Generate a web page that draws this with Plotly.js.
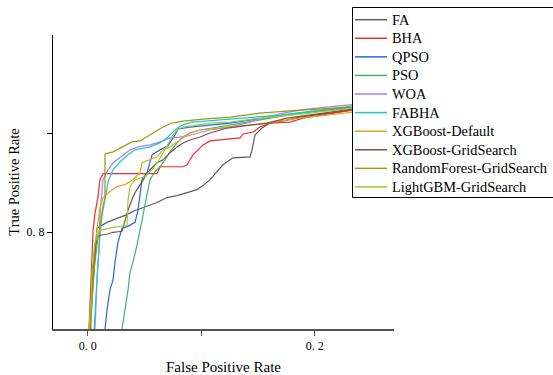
<!DOCTYPE html>
<html>
<head>
<meta charset="utf-8">
<script src="https://cdn.plot.ly/plotly-3.0.1.min.js"></script>
<style>html,body{margin:0;padding:0;background:#fff;}#chart{width:553px;height:375px;}</style>
</head>
<body>
<div id="chart"></div>
<script>
// Series names and colours
const seriesNames = ["FA","BHA","QPSO","PSO","WOA","FABHA","XGBoost-Default","XGBoost-GridSearch","RandomForest-GridSearch","LightGBM-GridSearch"];
const seriesColors = ["#5c5c5c","#f02c2c","#2468e0","#3cb371","#b080e8","#1cc8d4","#dea520","#80504a","#9c9a10","#9acd32"];

// ROC points (False Positive Rate, True Positive Rate)
const faFPR  = [0.002,0.0038,0.0056,0.0073,0.0082,0.0108,0.017,0.0258,0.0329,0.0417,0.0522,0.0611,0.0699,0.0787,0.0875,0.0963,0.1016,0.1078,0.1139,0.1192,0.128,0.143,0.1448,0.1474,0.1536,0.1606,0.1756,0.187,0.2329,0.28];
const faTPR  = [0.702,0.732,0.762,0.787,0.804,0.806,0.810,0.814,0.817,0.822,0.826,0.830,0.835,0.837,0.840,0.843,0.847,0.853,0.861,0.868,0.875,0.876,0.883,0.898,0.905,0.910,0.913,0.916,0.923,0.930];

const bhaFPR = [0.0011,0.002,0.0029,0.0038,0.0047,0.0064,0.0091,0.0108,0.0135,0.0611,0.0637,0.084,0.0875,0.0901,0.0928,0.0972,0.1016,0.1078,0.1342,0.1369,0.1457,0.1518,0.1606,0.1782,0.1897,0.2329,0.28];
const bhaTPR = [0.702,0.732,0.762,0.782,0.802,0.819,0.836,0.853,0.859,0.859,0.866,0.866,0.868,0.873,0.878,0.883,0.888,0.892,0.895,0.899,0.901,0.906,0.910,0.911,0.915,0.923,0.930];

const qpsoFPR = [0.0152,0.017,0.0196,0.0223,0.024,0.0267,0.0302,0.0355,0.0417,0.0443,0.0461,0.0478,0.0522,0.0549,0.0567,0.0637,0.0707,0.0769,0.0796,0.0901,0.1254,0.1606,0.187,0.2329,0.28];
const qpsoTPR = [0.702,0.722,0.742,0.752,0.770,0.790,0.804,0.806,0.810,0.822,0.838,0.853,0.860,0.870,0.878,0.883,0.887,0.898,0.904,0.906,0.910,0.916,0.920,0.926,0.932];

const psoFPR = [0.0302,0.0329,0.0355,0.0373,0.0399,0.0434,0.0461,0.0487,0.0522,0.0549,0.0593,0.0637,0.0681,0.0725,0.0787,0.084,0.0901,0.099,0.1254,0.1518,0.187,0.2329,0.28];
const psoTPR = [0.702,0.722,0.742,0.760,0.770,0.787,0.804,0.817,0.838,0.853,0.861,0.866,0.873,0.881,0.890,0.896,0.900,0.903,0.908,0.913,0.920,0.925,0.931];

const woaFPR = [0.0064,0.0073,0.0082,0.010,0.0108,0.0135,0.0179,0.0223,0.0285,0.0373,0.0443,0.0549,0.0637,0.0725,0.084,0.0963,0.1078,0.1254,0.143,0.1606,0.1721,0.1932,0.2329,0.28];
const woaTPR = [0.702,0.732,0.752,0.782,0.819,0.853,0.863,0.870,0.875,0.883,0.886,0.888,0.891,0.895,0.896,0.900,0.903,0.906,0.911,0.917,0.920,0.924,0.929,0.934];

const fabhaFPR = [0.0056,0.0073,0.0091,0.0108,0.0126,0.0152,0.0179,0.0223,0.0285,0.0355,0.0417,0.0549,0.0637,0.0707,0.0769,0.0831,0.0919,0.1254,0.1694,0.2329,0.28];
const fabhaTPR = [0.702,0.742,0.772,0.797,0.817,0.833,0.851,0.863,0.871,0.878,0.883,0.886,0.890,0.896,0.903,0.908,0.911,0.914,0.918,0.927,0.933];

const xgbdFPR = [0.0029,0.0038,0.0047,0.0064,0.0082,0.0108,0.0135,0.0196,0.0258,0.0329,0.0399,0.0461,0.0478,0.0549,0.0611,0.0663,0.0725,0.0787,0.0901,0.099,0.1254,0.1518,0.187,0.2329,0.28];
const xgbdTPR = [0.702,0.732,0.762,0.787,0.804,0.825,0.835,0.841,0.846,0.848,0.853,0.860,0.870,0.873,0.876,0.883,0.886,0.891,0.900,0.903,0.906,0.909,0.915,0.921,0.927];

const xgbgFPR = [0.002,0.0029,0.0047,0.0064,0.0082,0.0108,0.017,0.0223,0.0302,0.0329,0.0346,0.039,0.0417,0.0461,0.0505,0.0549,0.0611,0.0663,0.0725,0.0787,0.084,0.0901,0.099,0.1078,0.1228,0.143,0.158,0.1756,0.2329,0.28];
const xgbgTPR = [0.702,0.732,0.762,0.782,0.795,0.797,0.798,0.800,0.801,0.812,0.819,0.833,0.840,0.848,0.856,0.863,0.870,0.873,0.880,0.886,0.890,0.893,0.896,0.900,0.905,0.908,0.910,0.915,0.924,0.930];

const rfFPR = [0.002,0.0038,0.0056,0.0082,0.0108,0.0135,0.0152,0.0152,0.0223,0.0302,0.039,0.0461,0.0522,0.0593,0.0663,0.0743,0.084,0.1016,0.1254,0.1518,0.187,0.2329,0.28];
const rfTPR = [0.702,0.732,0.762,0.787,0.807,0.827,0.835,0.879,0.881,0.886,0.891,0.892,0.896,0.901,0.906,0.910,0.912,0.914,0.916,0.920,0.923,0.926,0.931];

const lgbFPR = [0.0011,0.0029,0.0038,0.0064,0.0108,0.0223,0.0346,0.0355,0.0373,0.0417,0.0505,0.0567,0.0619,0.0663,0.0707,0.0752,0.0787,0.084,0.1078,0.1254,0.1518,0.187,0.2329,0.28];
const lgbTPR = [0.702,0.732,0.760,0.790,0.802,0.805,0.807,0.832,0.846,0.853,0.856,0.863,0.871,0.880,0.890,0.898,0.903,0.906,0.910,0.911,0.915,0.919,0.925,0.930];

// Axis ticks
const xTickVals = [0, 0.1, 0.2];
const xTickText = ["0. 0", "", "0. 2"];
const yTickVals = [0.8, 0.9];
const yTickText = ["0. 8", ""];

const allFPR = [faFPR,bhaFPR,qpsoFPR,psoFPR,woaFPR,fabhaFPR,xgbdFPR,xgbgFPR,rfFPR,lgbFPR];
const allTPR = [faTPR,bhaTPR,qpsoTPR,psoTPR,woaTPR,fabhaTPR,xgbdTPR,xgbgTPR,rfTPR,lgbTPR];

const traces = seriesNames.map((n,i)=>({
  x: allFPR[i], y: allTPR[i], name: n, type: 'scatter', mode: 'lines',
  line: {color: seriesColors[i], width: 1.2}, showlegend: false
}));

// ---- layout geometry (pixels) ----
const W = 553, H = 375;
const M = {l: 53, r: 159, t: 35, b: 46};
const PW = W - M.l - M.r, PH = H - M.t - M.b;
const px2paperX = p => (p - M.l) / PW;
const px2paperY = p => (H - M.b - p) / PH;

const serif = "Liberation Serif, Times New Roman, serif";

// Legend box drawn like the original (white box, black border, runs off the right edge)
const legLeft = 352.5, legTop = 7.5, legBottom = 197.5, legRight = 620;
const legRow0 = 19.7, legRowStep = 18.58;
const shapes = [{
  type: 'rect', xref: 'paper', yref: 'paper', layer: 'above',
  x0: px2paperX(legLeft), x1: px2paperX(legRight),
  y0: px2paperY(legBottom), y1: px2paperY(legTop),
  fillcolor: '#fff', line: {color: '#000', width: 1}
}];
const annotations = [];
seriesNames.forEach((n,i)=>{
  const yy = px2paperY(legRow0 + i*legRowStep);
  shapes.push({type:'line', xref:'paper', yref:'paper', layer:'above',
    x0: px2paperX(355), x1: px2paperX(387), y0: yy, y1: yy,
    line: {color: seriesColors[i], width: 1.5}});
  annotations.push({xref:'paper', yref:'paper', x: px2paperX(390), y: yy,
    xanchor:'left', yanchor:'middle', showarrow:false, text: n,
    font: {family: serif, size: 14.4, color: '#000'}});
});

const layout = {
  width: W, height: H,
  margin: M,
  paper_bgcolor: '#fff', plot_bgcolor: '#fff',
  font: {family: serif, color: '#000', size: 12},
  showlegend: false,
  shapes: shapes,
  annotations: annotations,
  xaxis: {
    range: [-0.0306, 0.2699],
    tickmode: 'array', tickvals: xTickVals, ticktext: xTickText,
    ticks: 'outside', ticklen: 5, tickwidth: 1, tickcolor: '#555',
    showline: true, linecolor: '#555', linewidth: 1.5,
    showgrid: false, zeroline: false,
    tickfont: {family: serif, size: 12, color: '#000'},
    title: {text: 'False Positive Rate', font: {family: serif, size: 15, color: '#000'}, standoff: 11}
  },
  yaxis: {
    range: [0.7026, 0.9987],
    tickmode: 'array', tickvals: yTickVals, ticktext: yTickText,
    ticks: 'outside', ticklen: 5, tickwidth: 1, tickcolor: '#000',
    showline: true, linecolor: '#000', linewidth: 1,
    showgrid: false, zeroline: false,
    tickfont: {family: serif, size: 12, color: '#000'},
    title: {text: 'True Positive Rate', font: {family: serif, size: 14.5, color: '#000'}, standoff: 3}
  }
};

Plotly.newPlot('chart', traces, layout, {displayModeBar: false, staticPlot: true});
</script>
</body>
</html>
